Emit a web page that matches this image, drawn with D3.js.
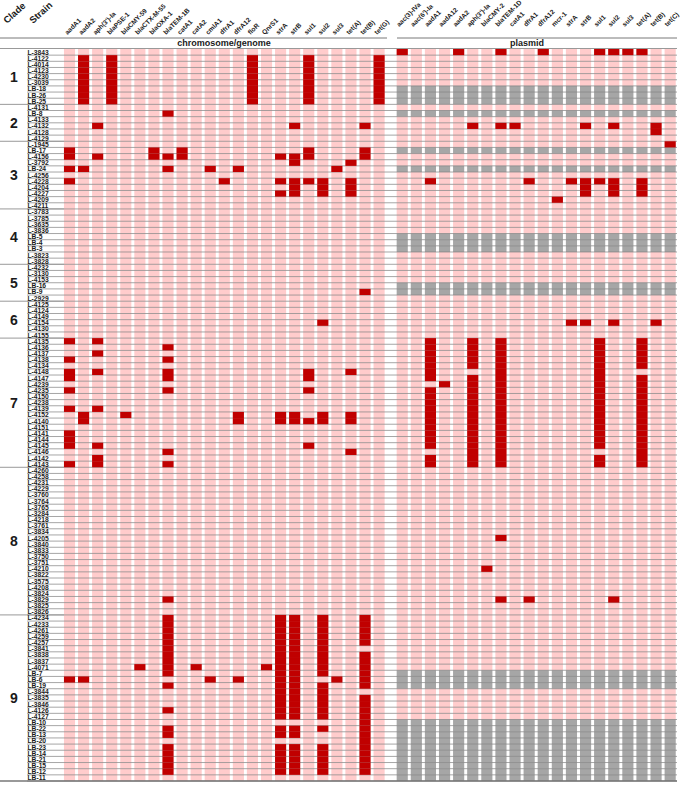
<!DOCTYPE html>
<html lang="en">
<head>
<meta charset="UTF-8">
<title>ARG heatmap</title>
<script src="https://d3js.org/d3.v7.min.js"></script>
<style>
  body { margin: 0; background: #fff; font-family: "Liberation Sans", Arial, sans-serif; }
  text { font-weight: bold; fill: #1a1a1a; }
</style>
</head>
<body>
<div id="chart"></div>
<script>

// clades and their strains (top to bottom)
var clades = ["1", "2", "3", "4", "5", "6", "7", "8", "9"];
var cladeStrains = [
  ["L-3843", "L-4122", "L-4014", "L-4123", "L-4230", "L-3039", "LB-18", "LB-26", "LB-25"],
  ["L-4131", "LB-8", "L-4133", "L-4132", "L-4128", "L-4129"],
  ["L-1945", "LB-17", "L-4156", "L-3792", "LB-24", "L-4256", "L-4228", "L-4204", "L-4227", "L-4209", "L-4211"],
  ["L-3783", "L-3785", "L-3635", "L-3836", "LB-5", "LB-4", "LB-3", "L-3823", "L-3828"],
  ["L-4232", "L-3130", "L-4153", "LB-16", "LB-9", "L-2929"],
  ["L-4125", "L-4124", "L-4149", "L-4154", "L-4130", "L-4155"],
  ["L-4135", "L-4136", "L-4137", "L-4138", "L-4134", "L-4148", "L-4147", "L-4239", "L-4235", "L-4150", "L-4238",
   "L-4139", "L-4152", "L-4140", "L-4151", "L-4141", "L-4144", "L-4145", "L-4146", "L-4142", "L-4143"],
  ["L-4260", "L-4258", "L-4231", "L-4229", "L-3760", "L-3764", "L-3765", "L-3284", "L-4218", "L-3761", "L-3834", "L-4205",
   "L-3840", "L-3833", "L-3750", "L-3751", "L-4210", "L-3822", "L-3575", "L-4208", "L-3824", "L-3829", "L-3825", "L-3826"],
  ["L-4234", "L-4233", "L-4261", "L-4259", "L-4257", "L-3841", "L-3838", "L-3837", "L-4071", "LB-7", "LB-6", "LB-19",
   "L-3844", "L-3835", "L-3846", "L-4126", "L-4127", "LB-10", "LB-22", "LB-13", "LB-20", "LB-23", "LB-14", "LB-21",
   "LB-15", "LB-12", "LB-11"]
];

var chromGenes = ["aadA1", "aadA2", "aph(3')-Ia", "blaPSE-1", "blaCMY-59", "blaCTX-M-55", "blaOXA-1", "blaTEM-1B",
  "catA1", "catA2", "cmlA1", "dfrA1", "dfrA12", "floR", "QnrS1", "strA", "strB", "sul1", "sul2", "sul3",
  "tet(A)", "tet(B)", "tet(G)"];
var plasmidGenes = ["aac(3)-IVa", "aac(6')-Ia", "aadA1", "aadA12", "aadA2", "aph(3')-Ia", "blaCMY-2", "blaTEM-1D",
  "catA1", "dfrA1", "dfrA12", "mcr-1", "strA", "strB", "sul1", "sul2", "sul3", "tet(A)", "tet(B)", "tet(C)"];

// strains without plasmid data (grey rows)
var noPlasmidData = ["LB-18", "LB-26", "LB-25", "LB-8", "LB-17", "LB-24", "LB-5", "LB-4", "LB-3", "LB-16", "LB-9",
  "LB-7", "LB-6", "LB-19", "LB-10", "LB-22", "LB-13", "LB-20", "LB-23", "LB-14", "LB-21", "LB-15", "LB-12", "LB-11"];

// genes found on chromosome/genome, per strain
var chromHits = [
  ["L-4122", ["aadA2", "blaPSE-1", "floR", "sul1", "tet(G)"]],
  ["L-4014", ["aadA2", "blaPSE-1", "floR", "sul1", "tet(G)"]],
  ["L-4123", ["aadA2", "blaPSE-1", "floR", "sul1", "tet(G)"]],
  ["L-4230", ["aadA2", "blaPSE-1", "floR", "sul1", "tet(G)"]],
  ["L-3039", ["aadA2", "blaPSE-1", "floR", "sul1", "tet(G)"]],
  ["LB-18", ["aadA2", "blaPSE-1", "floR", "sul1", "tet(G)"]],
  ["LB-26", ["aadA2", "blaPSE-1", "floR", "sul1", "tet(G)"]],
  ["LB-25", ["aadA2", "blaPSE-1", "floR", "sul1", "tet(G)"]],
  ["LB-8", ["blaTEM-1B"]],
  ["L-4132", ["aph(3')-Ia", "strB", "tet(B)"]],
  ["LB-17", ["aadA1", "blaOXA-1", "catA1", "sul1", "tet(B)"]],
  ["L-4156", ["aadA1", "aph(3')-Ia", "blaOXA-1", "blaTEM-1B", "catA1", "strA", "strB", "sul1", "tet(B)"]],
  ["L-3792", ["strB", "tet(A)"]],
  ["LB-24", ["aadA1", "aadA2", "blaTEM-1B", "cmlA1", "dfrA12", "sul3"]],
  ["L-4228", ["aadA1", "dfrA1", "strA", "strB", "sul1", "sul2", "tet(A)"]],
  ["L-4204", ["strB", "sul2", "tet(A)"]],
  ["L-4227", ["strA", "strB", "sul2", "tet(A)"]],
  ["LB-9", ["tet(B)"]],
  ["L-4154", ["sul2"]],
  ["L-4135", ["aadA1", "aph(3')-Ia"]],
  ["L-4136", ["blaTEM-1B"]],
  ["L-4137", ["aph(3')-Ia"]],
  ["L-4138", ["aadA1", "blaTEM-1B"]],
  ["L-4148", ["aadA1", "aph(3')-Ia", "blaTEM-1B", "sul1", "tet(A)"]],
  ["L-4147", ["aadA1", "blaTEM-1B", "sul1"]],
  ["L-4235", ["aadA1", "blaTEM-1B", "sul1"]],
  ["L-4139", ["aadA1", "aph(3')-Ia"]],
  ["L-4152", ["aadA2", "blaCMY-59", "dfrA12", "strA", "strB", "sul2", "tet(A)"]],
  ["L-4140", ["aadA2", "dfrA12", "strA", "strB", "sul1", "sul2", "tet(A)"]],
  ["L-4141", ["aadA1"]],
  ["L-4144", ["aadA1"]],
  ["L-4145", ["aadA1", "aph(3')-Ia", "sul1"]],
  ["L-4146", ["blaTEM-1B", "tet(A)"]],
  ["L-4142", ["aph(3')-Ia"]],
  ["L-4143", ["aadA1", "aph(3')-Ia", "blaTEM-1B"]],
  ["L-3829", ["blaTEM-1B"]],
  ["L-4234", ["blaTEM-1B", "strA", "strB", "sul2", "tet(B)"]],
  ["L-4233", ["blaTEM-1B", "strA", "strB", "sul2", "tet(B)"]],
  ["L-4261", ["blaTEM-1B", "strA", "strB", "sul2", "tet(B)"]],
  ["L-4259", ["blaTEM-1B", "strA", "strB", "sul2", "tet(B)"]],
  ["L-4257", ["blaTEM-1B", "strA", "strB", "sul2", "tet(B)"]],
  ["L-3841", ["blaTEM-1B", "strA", "strB", "sul2"]],
  ["L-3838", ["blaTEM-1B", "strA", "strB", "sul2", "tet(B)"]],
  ["L-3837", ["blaTEM-1B", "strA", "strB", "sul2", "tet(B)"]],
  ["L-4071", ["blaCTX-M-55", "blaTEM-1B", "catA2", "QnrS1", "strA", "strB", "sul2", "tet(B)"]],
  ["LB-7", ["blaTEM-1B", "strA", "strB", "sul2", "tet(B)"]],
  ["LB-6", ["aadA1", "aadA2", "cmlA1", "dfrA12", "strA", "strB", "sul3", "tet(B)"]],
  ["LB-19", ["blaTEM-1B", "strA", "strB", "sul2", "tet(B)"]],
  ["L-3844", ["strA", "strB", "sul2"]],
  ["L-3835", ["strA", "strB", "sul2", "tet(B)"]],
  ["L-3846", ["strA", "strB", "sul2", "tet(B)"]],
  ["L-4126", ["blaTEM-1B", "strA", "strB", "sul2", "tet(B)"]],
  ["L-4127", ["strA", "strB", "sul2", "tet(B)"]],
  ["LB-10", ["tet(B)"]],
  ["LB-22", ["blaTEM-1B", "strA", "strB", "sul2", "tet(B)"]],
  ["LB-13", ["blaTEM-1B", "strA", "strB", "tet(B)"]],
  ["LB-20", ["tet(B)"]],
  ["LB-23", ["blaTEM-1B", "strA", "strB", "sul2", "tet(B)"]],
  ["LB-14", ["blaTEM-1B", "strA", "strB", "sul2", "tet(B)"]],
  ["LB-21", ["blaTEM-1B", "strA", "strB", "sul2", "tet(B)"]],
  ["LB-15", ["blaTEM-1B", "strA", "strB", "sul2", "tet(B)"]],
  ["LB-12", ["blaTEM-1B", "strA", "strB", "sul2", "tet(B)"]]
];

// genes found on plasmids, per strain
var plasmidHits = [
  ["L-3843", ["aac(3)-IVa", "aadA2", "blaTEM-1D", "dfrA12", "sul1", "sul2", "sul3", "tet(A)"]],
  ["L-4132", ["aph(3')-Ia", "blaTEM-1D", "catA1", "strB", "sul2", "tet(B)"]],
  ["L-4128", ["tet(B)"]],
  ["L-1945", ["tet(C)"]],
  ["L-4228", ["aadA1", "dfrA1", "strA", "strB", "sul1", "sul2", "tet(A)"]],
  ["L-4204", ["strB", "sul2", "tet(A)"]],
  ["L-4227", ["strB", "sul2", "tet(A)"]],
  ["L-4209", ["mcr-1"]],
  ["L-4154", ["strA", "strB", "sul2", "tet(B)"]],
  ["L-4135", ["aadA1", "aph(3')-Ia", "blaTEM-1D", "sul1", "tet(A)"]],
  ["L-4136", ["aadA1", "aph(3')-Ia", "blaTEM-1D", "sul1", "tet(A)"]],
  ["L-4137", ["aadA1", "aph(3')-Ia", "blaTEM-1D", "sul1", "tet(A)"]],
  ["L-4138", ["aadA1", "aph(3')-Ia", "blaTEM-1D", "sul1", "tet(A)"]],
  ["L-4134", ["aadA1", "aph(3')-Ia", "blaTEM-1D", "sul1", "tet(A)"]],
  ["L-4148", ["aadA1", "blaTEM-1D", "sul1"]],
  ["L-4147", ["aadA1", "aph(3')-Ia", "blaTEM-1D", "sul1", "tet(A)"]],
  ["L-4239", ["aadA12", "aph(3')-Ia", "blaTEM-1D", "sul1", "tet(A)"]],
  ["L-4235", ["aadA1", "aph(3')-Ia", "blaTEM-1D", "sul1", "tet(A)"]],
  ["L-4150", ["aadA1", "aph(3')-Ia", "blaTEM-1D", "sul1", "tet(A)"]],
  ["L-4238", ["aadA1", "aph(3')-Ia", "blaTEM-1D", "sul1", "tet(A)"]],
  ["L-4139", ["aadA1", "aph(3')-Ia", "blaTEM-1D", "sul1", "tet(A)"]],
  ["L-4152", ["aadA1", "aph(3')-Ia", "blaTEM-1D", "sul1", "tet(A)"]],
  ["L-4140", ["aadA1", "aph(3')-Ia", "blaTEM-1D", "sul1", "tet(A)"]],
  ["L-4151", ["aadA1", "aph(3')-Ia", "blaTEM-1D", "sul1", "tet(A)"]],
  ["L-4141", ["aadA1", "aph(3')-Ia", "blaTEM-1D", "sul1", "tet(A)"]],
  ["L-4144", ["aadA1", "aph(3')-Ia", "blaTEM-1D", "sul1", "tet(A)"]],
  ["L-4145", ["aadA1", "aph(3')-Ia", "blaTEM-1D", "sul1", "tet(A)"]],
  ["L-4146", ["aph(3')-Ia", "blaTEM-1D", "tet(A)"]],
  ["L-4142", ["aadA1", "aph(3')-Ia", "blaTEM-1D", "sul1", "tet(A)"]],
  ["L-4143", ["aadA1", "aph(3')-Ia", "blaTEM-1D", "sul1", "tet(A)"]],
  ["L-4205", ["blaTEM-1D"]],
  ["L-4210", ["blaCMY-2"]],
  ["L-3829", ["blaTEM-1D", "dfrA1", "sul2"]]
];

var width = 684, height = 785;
var pink = "#ffcccc", red = "#c00000", grey = "#a6a6a6";

var strains = cladeStrains.flat();

var svg = d3.select("#chart").append("svg")
  .attr("width", width)
  .attr("height", height);

var y = d3.scaleBand().domain(strains).range([49, 781]);
var xC = d3.scaleBand().domain(chromGenes).range([61, 387.6]).padding(0.21);
var xP = d3.scaleBand().domain(plasmidGenes).range([393.7, 678.7]).padding(0.21);

var panels = [
  { x: xC, genes: chromGenes, hits: chromHits, grey: [] },
  { x: xP, genes: plasmidGenes, hits: plasmidHits, grey: noPlasmidData }
];

// background cells
panels.forEach(function(p) {
  var cells = [];
  strains.forEach(function(s) {
    p.genes.forEach(function(g) { cells.push({ s: s, g: g }); });
  });
  svg.append("g").selectAll("rect")
    .data(cells)
    .join("rect")
      .attr("x", function(d) { return p.x(d.g); })
      .attr("y", function(d) { return y(d.s); })
      .attr("width", p.x.bandwidth())
      .attr("height", y.bandwidth())
      .attr("fill", function(d) { return p.grey.indexOf(d.s) >= 0 ? grey : pink; });
});

// row lines
svg.append("g").selectAll("line")
  .data(strains)
  .join("line")
    .attr("x1", 27)
    .attr("x2", 677)
    .attr("y1", function(d) { return y(d) + y.bandwidth(); })
    .attr("y2", function(d) { return y(d) + y.bandwidth(); })
    .attr("stroke", "#808080")
    .attr("stroke-width", 0.7);

// present genes
panels.forEach(function(p) {
  var cells = [];
  p.hits.forEach(function(h) {
    h[1].forEach(function(g) { cells.push({ s: h[0], g: g }); });
  });
  svg.append("g").selectAll("rect")
    .data(cells)
    .join("rect")
      .attr("x", function(d) { return p.x(d.g); })
      .attr("y", function(d) { return y(d.s); })
      .attr("width", p.x.bandwidth())
      .attr("height", y.bandwidth())
      .attr("fill", red);
});

// header lines
svg.append("line").attr("x1", 0).attr("x2", 387).attr("y1", 38).attr("y2", 38)
  .attr("stroke", "#555").attr("stroke-width", 0.8);
svg.append("line").attr("x1", 397).attr("x2", 677).attr("y1", 38).attr("y2", 38)
  .attr("stroke", "#555").attr("stroke-width", 0.8);
svg.append("line").attr("x1", 0).attr("x2", 677).attr("y1", 48.5).attr("y2", 48.5)
  .attr("stroke", "#999").attr("stroke-width", 1.2);
svg.append("line").attr("x1", 0).attr("x2", 677).attr("y1", 781).attr("y2", 781)
  .attr("stroke", "#777").attr("stroke-width", 1.5);

// clade separators and labels
var cladeInfo = cladeStrains.map(function(list, i) {
  var top = y(list[0]), bottom = y(list[list.length - 1]) + y.bandwidth();
  return { name: clades[i], top: top, bottom: bottom };
});

svg.append("g").selectAll("line")
  .data(cladeInfo.slice(1))
  .join("line")
    .attr("x1", 0).attr("x2", 64)
    .attr("y1", function(d) { return d.top; })
    .attr("y2", function(d) { return d.top; })
    .attr("stroke", "#999")
    .attr("stroke-width", 1);

svg.append("g").selectAll("text")
  .data(cladeInfo)
  .join("text")
    .attr("x", 14)
    .attr("y", function(d) { return (d.top + d.bottom) / 2 + 5; })
    .attr("text-anchor", "middle")
    .style("font-size", "14px")
    .text(function(d) { return d.name; });

// strain labels
svg.append("g").selectAll("text")
  .data(strains)
  .join("text")
    .attr("x", 27.5)
    .attr("y", function(d) { return y(d) + y.bandwidth() - 0.6; })
    .style("font-size", "6.7px")
    .text(function(d) { return d; });

// gene headers
svg.append("g").selectAll("text")
  .data(chromGenes)
  .join("text")
    .attr("transform", function(d) {
      return "translate(" + (xC(d) + xC.bandwidth() / 2 - 2) + ",35) rotate(-45)";
    })
    .style("font-size", "6.6px")
    .text(function(d) { return d; });

svg.append("g").selectAll("text")
  .data(plasmidGenes)
  .join("text")
    .attr("transform", function(d) {
      return "translate(" + (xP(d) + xP.bandwidth() / 2 - 3) + ",27) rotate(-45)";
    })
    .style("font-size", "6.6px")
    .text(function(d) { return d; });

svg.append("text")
  .attr("transform", "translate(7,24) rotate(-42)")
  .style("font-size", "9.5px")
  .text("Clade");
svg.append("text")
  .attr("transform", "translate(33,24) rotate(-42)")
  .style("font-size", "9.5px")
  .text("Strain");

svg.append("text")
  .attr("x", 224).attr("y", 45.5)
  .attr("text-anchor", "middle")
  .style("font-size", "9px")
  .text("chromosome/genome");
svg.append("text")
  .attr("x", 527).attr("y", 45.5)
  .attr("text-anchor", "middle")
  .style("font-size", "9px")
  .text("plasmid");

</script>
</body>
</html>
